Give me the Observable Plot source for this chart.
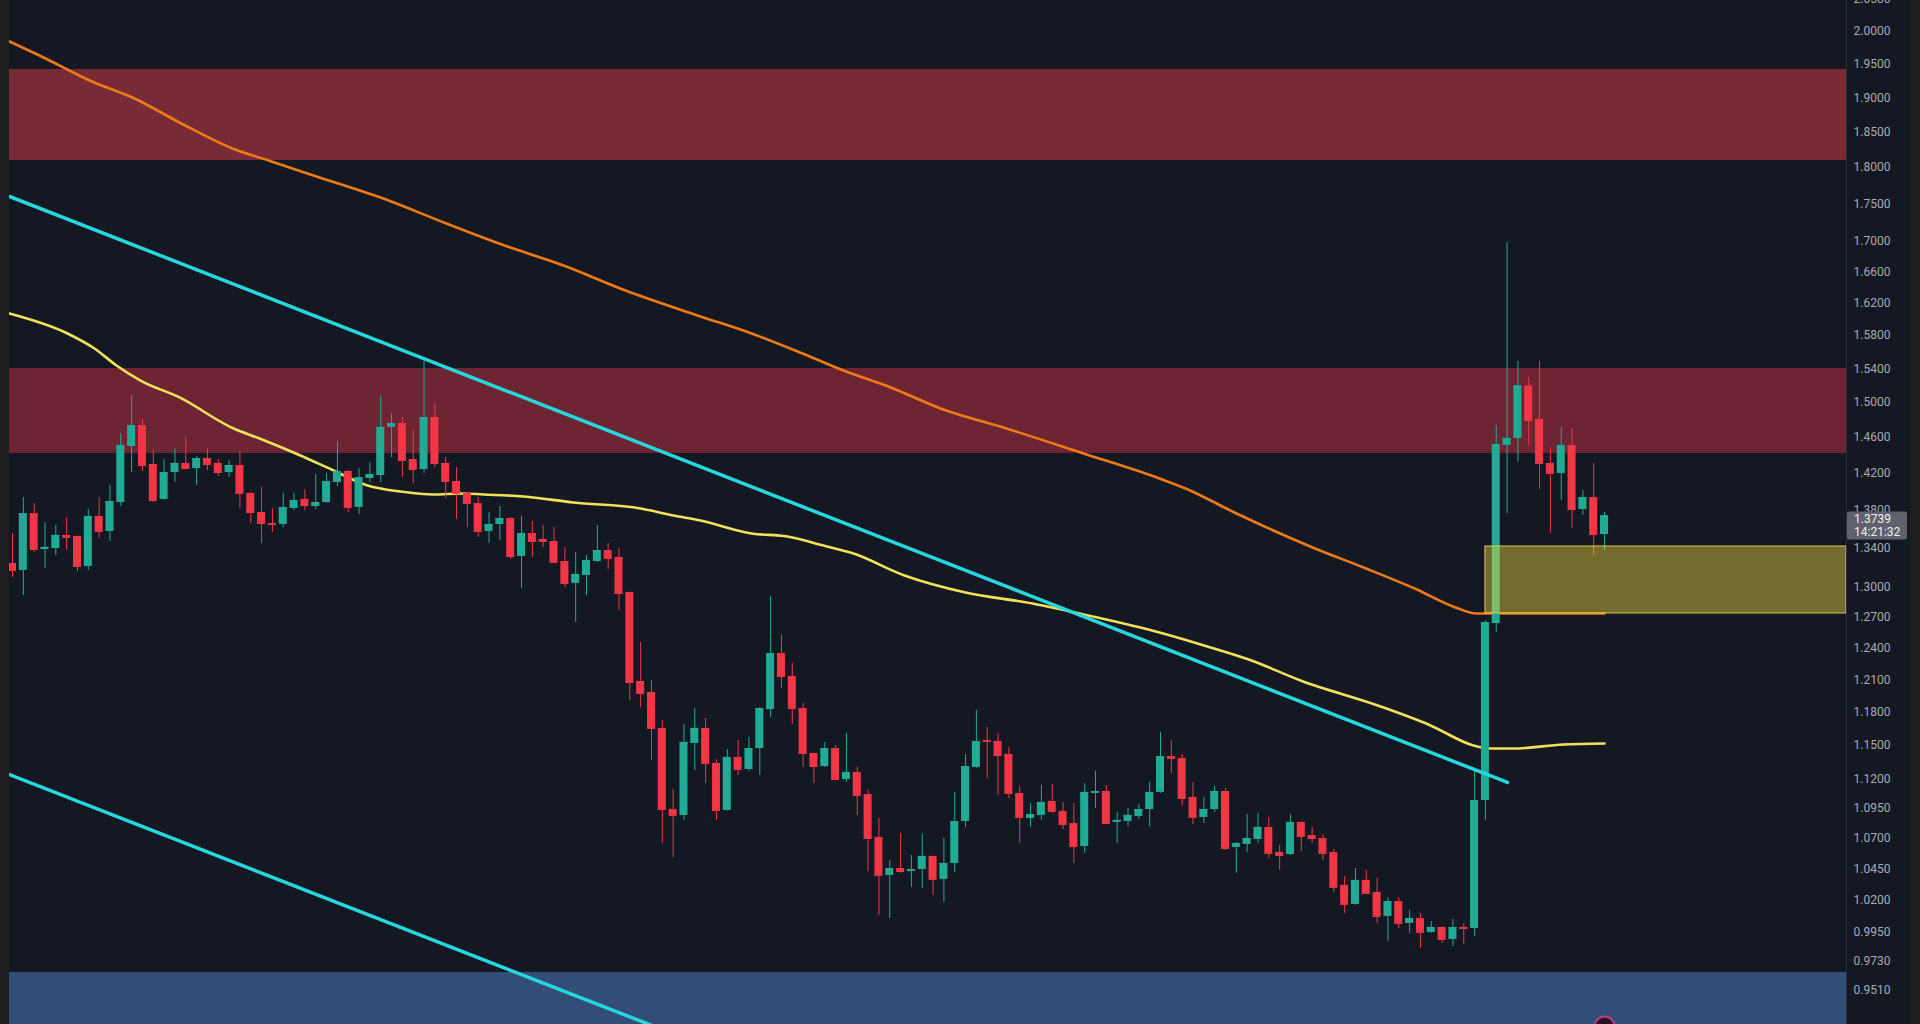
<!DOCTYPE html>
<html>
<head>
<meta charset="utf-8">
<script src="https://cdn.jsdelivr.net/npm/d3@7"></script>
<script src="https://cdn.jsdelivr.net/npm/@observablehq/plot@0.6"></script>
<style>
  html, body { margin: 0; padding: 0; background: #1e1e20; width: 1920px; height: 1024px; overflow: hidden; }
  #chart { position: absolute; left: 9px; top: 0; }
</style>
</head>
<body>
<div id="chart"></div>
<script>
// ---- Candle data (one value per bar) ----
const open = [1.3241,1.3170,1.3764,1.3386,1.3396,1.3532,1.3521,1.3211,1.3733,1.3574,1.3882,1.4498,1.4736,1.4298,1.3915,1.4209,1.4309,1.4253,1.4364,1.4309,
1.4209,1.4286,1.3980,1.3775,1.3658,1.3648,1.3818,1.3915,1.3839,1.3882,1.4099,1.4220,1.3829,1.4143,1.4176,1.4714,1.4759,1.4353,1.4242,1.4828,
1.4309,1.4110,1.3980,1.3871,1.3574,1.3648,1.3711,1.3313,1.3553,1.3490,1.3469,1.3262,1.3038,1.3119,1.3262,1.3375,1.3303,1.2947,1.2084,1.1981,
1.1652,1.0942,1.0892,1.1517,1.1652,1.1340,1.0934,1.1393,1.1287,1.1472,1.1824,1.2349,1.2131,1.1833,1.1428,1.1313,1.1472,1.1200,1.1261,1.1070,
1.0708,1.0397,1.0453,1.0429,1.0445,1.0551,1.0365,1.0494,1.0841,1.1305,1.1544,1.1535,1.1419,1.1079,1.0866,1.0892,1.1011,1.0926,1.0824,1.0633,
1.1079,1.1096,1.0833,1.0841,1.0883,1.0942,1.1088,1.1401,1.1384,1.1045,1.0875,1.0942,1.1096,1.0625,1.0650,1.0691,1.0791,1.0584,1.0567,1.0833,
1.0724,1.0699,1.0584,1.0317,1.0166,1.0357,1.0261,1.0072,1.0189,1.0017,1.0056,0.9948,0.9986,0.9894,0.9986,0.9978,1.1019,1.2639,1.4510,1.4589,
1.5195,1.4805,1.4309,1.4198,1.4510,1.3807,1.3936,1.3542];
const high = [1.3553,1.3936,1.3871,1.3669,1.3637,1.3722,1.3525,1.3807,1.3936,1.4067,1.4645,1.5083,1.4805,1.4453,1.4353,1.4476,1.4600,1.4386,1.4476,1.4353,
1.4342,1.4442,1.3985,1.4045,1.3818,1.3980,1.3980,1.4023,1.4187,1.4198,1.4555,1.4231,1.4253,1.4320,1.5071,1.4874,1.4828,1.4679,1.5486,1.4990,
1.4375,1.4264,1.3990,1.3936,1.3775,1.3839,1.3722,1.3733,1.3679,1.3637,1.3616,1.3407,1.3355,1.3324,1.3637,1.3448,1.3396,1.2950,1.2455,1.2093,
1.1724,1.1113,1.1688,1.1833,1.1742,1.1375,1.1463,1.1544,1.1571,1.1843,1.2907,1.2532,1.2254,1.1879,1.1430,1.1526,1.1499,1.1607,1.1305,1.1105,
1.0866,1.0518,1.0741,1.0559,1.0733,1.0556,1.0699,1.1088,1.1419,1.1815,1.1661,1.1607,1.1481,1.1139,1.0993,1.1148,1.1157,1.1002,1.0993,1.1165,
1.1270,1.1148,1.0917,1.0951,1.0985,1.1174,1.1615,1.1544,1.1419,1.1174,1.1045,1.1139,1.1122,1.0666,1.0900,1.0909,1.0875,1.0641,1.0900,1.0836,
1.0791,1.0733,1.0608,1.0389,1.0453,1.0437,1.0373,1.0221,1.0221,1.0119,1.0095,1.0033,0.9990,1.0048,1.0017,1.1287,1.2669,1.4736,1.6982,1.5486,
1.5295,1.5486,1.4487,1.4714,1.4702,1.4012,1.4309,1.3775];
const low = [1.3098,1.2917,1.3355,1.3190,1.3324,1.3375,1.3159,1.3170,1.3500,1.3469,1.3839,1.4209,1.4220,1.3882,1.3905,1.4099,1.4250,1.4067,1.4231,1.4165,
1.4154,1.3818,1.3658,1.3448,1.3563,1.3616,1.3797,1.3797,1.3807,1.3875,1.4056,1.3775,1.3754,1.4099,1.4099,1.4375,1.4154,1.4088,1.4198,1.4264,
1.3926,1.3701,1.3616,1.3511,1.3448,1.3479,1.3282,1.2987,1.3303,1.3407,1.3241,1.2997,1.2649,1.2917,1.3252,1.3180,1.2767,1.1907,1.1843,1.1366,
1.0658,1.0543,1.0850,1.1278,1.1165,1.0850,1.0930,1.1235,1.1270,1.1235,1.1751,1.2018,1.1688,1.1305,1.1165,1.1305,1.1191,1.1174,1.0892,1.0429,
1.0080,1.0056,1.0413,1.0301,1.0293,1.0237,1.0181,1.0421,1.0791,1.1296,1.1209,1.1062,1.1036,1.0658,1.0791,1.0850,1.0909,1.0774,1.0494,1.0576,
1.0951,1.0816,1.0658,1.0799,1.0858,1.0799,1.1079,1.1252,1.0968,1.0816,1.0824,1.0917,1.0600,1.0413,1.0584,1.0658,1.0535,1.0437,1.0560,1.0592,
1.0658,1.0518,1.0261,1.0095,1.0160,1.0250,1.0017,0.9878,0.9978,0.9940,0.9825,0.9940,0.9863,0.9840,0.9855,0.9917,1.0850,1.2552,1.3764,1.4320,
1.4510,1.4023,1.3553,1.3904,1.3605,1.3743,1.3324,1.3375];
const close = [1.3170,1.3764,1.3386,1.3407,1.3532,1.3511,1.3211,1.3733,1.3574,1.3893,1.4510,1.4736,1.4286,1.3904,1.4209,1.4309,1.4253,1.4364,1.4298,1.4209,
1.4286,1.3980,1.3775,1.3658,1.3648,1.3829,1.3904,1.3850,1.3882,1.4110,1.4220,1.3829,1.4154,1.4187,1.4714,1.4759,1.4342,1.4242,1.4828,1.4309,
1.4110,1.3980,1.3871,1.3574,1.3648,1.3711,1.3313,1.3553,1.3469,1.3469,1.3252,1.3038,1.3129,1.3272,1.3375,1.3293,1.2937,1.2074,1.1972,1.1652,
1.0942,1.0892,1.1526,1.1652,1.1340,1.0934,1.1393,1.1287,1.1472,1.1833,1.2349,1.2131,1.1833,1.1428,1.1313,1.1472,1.1200,1.1261,1.1062,1.0699,
1.0397,1.0453,1.0429,1.0445,1.0551,1.0365,1.0494,1.0841,1.1313,1.1535,1.1535,1.1410,1.1079,1.0875,1.0900,1.1002,1.0926,1.0816,1.0633,1.1088,
1.1096,1.0824,1.0850,1.0892,1.0942,1.1088,1.1401,1.1384,1.1036,1.0875,1.0942,1.1096,1.0617,1.0658,1.0699,1.0791,1.0576,1.0559,1.0833,1.0716,
1.0699,1.0576,1.0301,1.0166,1.0357,1.0253,1.0072,1.0189,1.0017,1.0056,0.9948,0.9986,0.9894,0.9986,0.9978,1.1019,1.2649,1.4521,1.4589,1.5195,
1.4794,1.4309,1.4198,1.4510,1.3807,1.3936,1.3542,1.3739];

// ---- Moving averages (bar index, price) ----
const orangeIdx = [-0.28,3.05,7.11,11.27,15.42,20.31,23.64,27.79,34.72,40.07,45.43,50.88,56.60,63.53,68.24,72.95,76.73,80.98,85.69,91.78,98.89,105.91,108.31,113.02,120.04,124.75,129.46,133.24,135.18,137.4,147];
const orangeVal = [1.9846,1.9586,1.9255,1.8988,1.8638,1.8266,1.8097,1.7888,1.7544,1.7234,1.6943,1.6682,1.6362,1.6036,1.5826,1.5582,1.5378,1.5183,1.4932,1.4702,1.4420,1.4143,1.4034,1.3764,1.3407,1.3200,1.2987,1.2797,1.2738,1.2738,1.2738];
const yellowIdx = [-0.28,5.08,7.57,9.60,11.82,15.42,20.41,22.81,26.59,29.64,32.78,35.83,38.87,41.37,43.49,47.18,51.80,57.99,61.03,63.53,68.24,71.56,74.88,77.65,82.36,88.0,94.18,99.35,105.91,110.62,114.40,118.93,126.32,130.93,134.90,136.47,138.60,143.21,147];
const yellowVal = [1.6073,1.5826,1.5643,1.5438,1.5259,1.5060,1.4702,1.4589,1.4398,1.4231,1.4067,1.4001,1.3969,1.3980,1.3969,1.3947,1.3882,1.3818,1.3743,1.3690,1.3553,1.3521,1.3427,1.3344,1.3119,1.2947,1.2837,1.2718,1.2552,1.2407,1.2282,1.2093,1.1852,1.1679,1.1499,1.1472,1.1472,1.1508,1.1517];

// ---- Trend lines (bar index, price) ----
const trendUpperIdx = [-0.28, 138.04];
const trendUpperVal = [1.7599, 1.1174];
const trendLowerIdx = [-0.28, 63.53];
const trendLowerVal = [1.1243, 0.9120];

// ---- Zones (price ranges) ----
const resistTop = [1.8097, 1.9420];
const resistMid = [1.4420, 1.5402];
const supportBottom = [0.90, 0.9644];
const demandBox = [1.2738, 1.3417];
const demandStartIdx = 136;

// ---- Axis ticks ----
const yTicks = [2.05,2.0,1.95,1.9,1.85,1.8,1.75,1.7,1.66,1.62,1.58,1.54,1.5,1.46,1.42,1.38,1.34,1.3,1.27,1.24,1.21,1.18,1.15,1.12,1.095,1.07,1.045,1.02,0.995,0.973,0.951,0.931];

// ---- Last price tag & event marker ----
const lastPrice = 1.3739;
const lastTime = "14:21:32";
const eventIdx = [147];
const eventVal = [0.9248];

// ---- Build tables ----
const candles = open.map((o, i) => ({i, o, h: high[i], l: low[i], c: close[i], up: close[i] >= o}));
const orange = orangeIdx.map((i, k) => ({i, p: orangeVal[k]}));
const yellow = yellowIdx.map((i, k) => ({i, p: yellowVal[k]}));
const tUp = trendUpperIdx.map((i, k) => ({i, p: trendUpperVal[k]}));
const tLo = trendLowerIdx.map((i, k) => ({i, p: trendLowerVal[k]}));
const events = eventIdx.map((i, k) => ({i, p: eventVal[k]}));

const UP = "#22ab94", DOWN = "#f23645";
const xDomain = [-0.277, 169.34];
const yDomain = [0.92624, 2.04864];
const half = 0.37;

const chart = Plot.plot({
  width: 1901,
  height: 1024,
  marginLeft: 0,
  marginRight: 64,
  marginTop: 0,
  marginBottom: 0,
  style: {background: "#141823", color: "#a8abb3", fontFamily: "Roboto, sans-serif", fontSize: "12px"},
  x: {domain: xDomain, axis: null},
  y: {type: "log", domain: yDomain, axis: "right", ticks: yTicks, tickFormat: d => d.toFixed(4), tickSize: 0, tickPadding: 7, label: null},
  marks: [
    Plot.rect([resistTop], {x1: xDomain[0], x2: xDomain[1], y1: d => d[0], y2: d => d[1], fill: "#782a37"}),
    Plot.rect([resistMid], {x1: xDomain[0], x2: xDomain[1], y1: d => d[0], y2: d => d[1], fill: "#6d2433"}),
    Plot.rect([supportBottom], {x1: xDomain[0], x2: xDomain[1], y1: d => d[0], y2: d => d[1], fill: "#314d78", clip: true}),
    Plot.line(orange, {x: "i", y: "p", stroke: "#f07a18", strokeWidth: 2.6, curve: "monotone-x", clip: true}),
    Plot.line(yellow, {x: "i", y: "p", stroke: "#f2e15a", strokeWidth: 2.6, curve: "monotone-x", clip: true}),
    Plot.ruleX(candles, {x: "i", y1: "l", y2: "h", stroke: d => d.up ? UP : DOWN, strokeWidth: 1}),
    Plot.rect(candles, {x1: d => d.i - half, x2: d => d.i + half, y1: "o", y2: "c", fill: d => d.up ? UP : DOWN}),
    Plot.ruleY(candles, {y: "c", x1: d => d.i - half, x2: d => d.i + half, stroke: d => d.up ? UP : DOWN, strokeWidth: 1}),
    Plot.line(tUp, {x: "i", y: "p", stroke: "#27d7de", strokeWidth: 3.5, clip: true}),
    Plot.line(tLo, {x: "i", y: "p", stroke: "#27d7de", strokeWidth: 3.5, clip: true}),
    Plot.rect([demandBox], {x1: demandStartIdx, x2: xDomain[1], y1: d => d[0], y2: d => d[1], fill: "#e6d23c", fillOpacity: 0.45, stroke: "#d9ca48", strokeWidth: 1}),
    Plot.dot(events, {x: "i", y: "p", r: 10, fill: "#2b1028", stroke: "#b8417d", strokeWidth: 2, clip: true}),
    Plot.ruleX([xDomain[1]], {stroke: "#2a2e39", strokeWidth: 1})
  ]
});

// last price tag, positioned with the plot's own scales
const ys = chart.scale("y");
const xs = chart.scale("x");
const py = ys.apply(lastPrice);
const px = xs.apply(xDomain[1]);
const g = d3.select(chart).append("g").attr("text-anchor", "start").attr("font-size", 12).attr("font-family", "Roboto, sans-serif");
g.append("rect").attr("x", px + 1).attr("y", py - 4).attr("width", 60).attr("height", 28).attr("rx", 2).attr("fill", "#5f626c");
g.append("text").attr("x", px + 8).attr("y", py + 3).attr("dy", "0.35em").attr("fill", "#eeeff2").text(lastPrice.toFixed(4));
g.append("text").attr("x", px + 8).attr("y", py + 16).attr("dy", "0.35em").attr("fill", "#eeeff2").text(lastTime);

document.getElementById("chart").appendChild(chart);
</script>
</body>
</html>
